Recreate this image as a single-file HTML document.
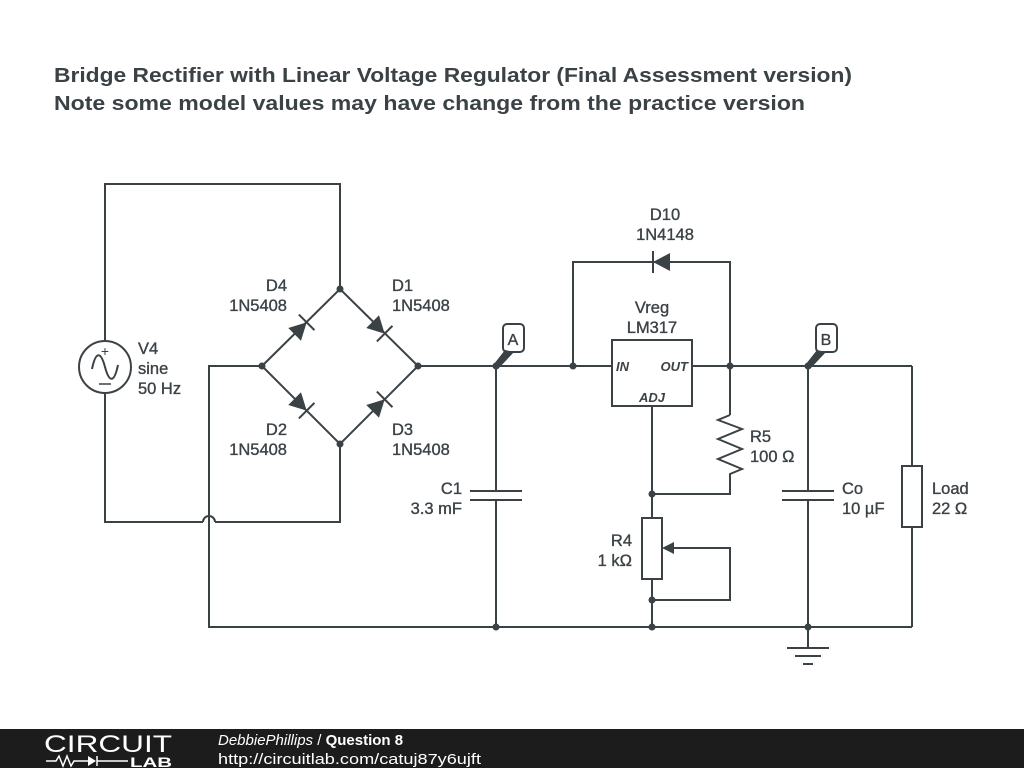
<!DOCTYPE html>
<html><head><meta charset="utf-8"><style>
html,body{margin:0;padding:0;background:#fff;width:1024px;height:768px;overflow:hidden}
svg{display:block}
text{font-family:"Liberation Sans",sans-serif;fill:#3b4246}
.lb text{stroke:#3b4246;stroke-width:0.35}
</style></head><body>
<svg width="1024" height="768" viewBox="0 0 1024 768" xmlns="http://www.w3.org/2000/svg">
<defs>
<g id="dio">
<polygon points="-9,-9 -9,9 8,0" fill="#3b4246"/>
<line x1="8" y1="-11" x2="8" y2="11" stroke="#3b4246" stroke-width="2"/>
</g>
</defs>
<text x="54" y="82" font-size="20" font-weight="bold" textLength="798" lengthAdjust="spacingAndGlyphs">Bridge Rectifier with Linear Voltage Regulator (Final Assessment version)</text>
<text x="54" y="110" font-size="20" font-weight="bold" textLength="751" lengthAdjust="spacingAndGlyphs">Note some model values may have change from the practice version</text>

<g fill="none" stroke="#3b4246" stroke-width="2">
<polyline points="105,341 105,184 340,184 340,289"/>
<polyline points="105,393 105,522 203,522"/>
<path d="M203,522 A6,6 0 0 1 215,522"/>
<polyline points="215,522 340,522 340,444"/>
<circle cx="105" cy="367" r="26"/>
<path d="M92,369 C96,350 101,352 105,367 C109,382 114,384 118,365"/>
<polyline points="262,366 340,289 418,366 340,444 262,366"/>
<polyline points="262,366 209,366 209,627 912,627"/>
<line x1="418" y1="366" x2="612" y2="366"/>
<line x1="692" y1="366" x2="912" y2="366"/>
<line x1="496" y1="366" x2="496" y2="491"/>
<line x1="496" y1="500" x2="496" y2="627"/>
<line x1="470" y1="491" x2="522" y2="491"/>
<line x1="470" y1="500" x2="522" y2="500"/>
<polyline points="573,366 573,262 730,262 730,415"/>
<rect x="612" y="340" width="80" height="66" fill="#fff"/>
<polyline points="730,415 718,420 742,429 718,439 742,449 718,459 742,469 730,474 730,494 652,494"/>
<line x1="652" y1="406" x2="652" y2="518"/>
<rect x="642" y="518" width="20" height="61" fill="#fff"/>
<polyline points="672,548 730,548 730,600 652,600"/>
<line x1="652" y1="579" x2="652" y2="627"/>
<line x1="808" y1="366" x2="808" y2="491"/>
<line x1="808" y1="500" x2="808" y2="648"/>
<line x1="782" y1="491" x2="834" y2="491"/>
<line x1="782" y1="500" x2="834" y2="500"/>
<line x1="912" y1="366" x2="912" y2="466"/>
<line x1="912" y1="527" x2="912" y2="627"/>
<rect x="902" y="466" width="20" height="61" fill="#fff"/>
<line x1="787" y1="648" x2="829" y2="648"/>
<line x1="795" y1="656" x2="821" y2="656"/>
<line x1="803" y1="664" x2="813" y2="664"/>
<rect x="503" y="324" width="21" height="28" rx="4" fill="#fff"/>
<rect x="816" y="324" width="21" height="28" rx="4" fill="#fff"/>
</g>
<polygon points="662,548 674,542 674,554" fill="#3b4246"/>
<polygon points="494,364 505,350 514,352 498,369" fill="#3b4246"/>
<polygon points="806,364 817,350 826,352 810,369" fill="#3b4246"/>
<g class="lb">
<text x="513" y="345" font-size="16" text-anchor="middle">A</text>
<text x="826" y="345" font-size="16" text-anchor="middle">B</text>
</g>
<text x="105" y="356" font-size="14" text-anchor="middle">+</text>
<line x1="99" y1="384" x2="111" y2="384" stroke="#3b4246" stroke-width="1.5"/>

<use href="#dio" transform="translate(301,328) rotate(-45)"/>
<use href="#dio" transform="translate(379,328) rotate(45)"/>
<use href="#dio" transform="translate(301,405) rotate(45)"/>
<use href="#dio" transform="translate(379,405) rotate(-45)"/>
<use href="#dio" transform="translate(661,262) rotate(180)"/>

<g fill="#3b4246">
<circle cx="340" cy="289" r="3.5"/><circle cx="262" cy="366" r="3.5"/>
<circle cx="418" cy="366" r="3.5"/><circle cx="340" cy="444" r="3.5"/>
<circle cx="496" cy="366" r="3.5"/><circle cx="573" cy="366" r="3.5"/>
<circle cx="730" cy="366" r="3.5"/><circle cx="808" cy="366" r="3.5"/>
<circle cx="652" cy="494" r="3.5"/><circle cx="652" cy="600" r="3.5"/>
<circle cx="496" cy="627" r="3.5"/><circle cx="652" cy="627" r="3.5"/>
<circle cx="808" cy="627" r="3.5"/>
</g>

<g font-size="16.5" class="lb">
<text x="138" y="354">V4</text><text x="138" y="374">sine</text><text x="138" y="394">50 Hz</text>
<text x="287" y="291" text-anchor="end">D4</text><text x="287" y="311" text-anchor="end">1N5408</text>
<text x="392" y="291">D1</text><text x="392" y="311">1N5408</text>
<text x="287" y="435" text-anchor="end">D2</text><text x="287" y="455" text-anchor="end">1N5408</text>
<text x="392" y="435">D3</text><text x="392" y="455">1N5408</text>
<text x="462" y="494" text-anchor="end">C1</text><text x="462" y="514" text-anchor="end">3.3 mF</text>
<text x="665" y="220" text-anchor="middle">D10</text><text x="665" y="240" text-anchor="middle">1N4148</text>
<text x="652" y="313" text-anchor="middle">Vreg</text><text x="652" y="333" text-anchor="middle">LM317</text>
<text x="750" y="442">R5</text><text x="750" y="462">100 Ω</text>
<text x="842" y="494">Co</text><text x="842" y="514">10 µF</text>
<text x="932" y="494">Load</text><text x="932" y="514">22 Ω</text>
<text x="632" y="546" text-anchor="end">R4</text><text x="632" y="566" text-anchor="end">1 kΩ</text>
</g>
<g font-size="13" font-style="italic" font-weight="bold">
<text x="616" y="371">IN</text><text x="688" y="371" text-anchor="end">OUT</text>
<text x="652" y="402" text-anchor="middle">ADJ</text>
</g>

<rect x="0" y="729" width="1024" height="39" fill="#1c1c1c"/>
<text x="44" y="752" font-size="24" style="fill:#fff" textLength="128" lengthAdjust="spacingAndGlyphs">CIRCUIT</text>
<polyline points="46,761 56,761 59,756 63,766 67,756 71,766 74,761 80,761 88,761" fill="none" stroke="#fff" stroke-width="1.5"/>
<polygon points="88,756 88,766 96,761" fill="#fff"/>
<line x1="97" y1="756" x2="97" y2="766" stroke="#fff" stroke-width="1.5"/>
<line x1="97" y1="761" x2="128" y2="761" stroke="#fff" stroke-width="1.5"/>
<text x="130" y="767" font-size="14" font-weight="bold" style="fill:#fff" textLength="42" lengthAdjust="spacingAndGlyphs">LAB</text>
<text x="218" y="745" font-size="15" style="fill:#fff"><tspan font-style="italic">DebbiePhillips</tspan> / <tspan font-weight="bold">Question 8</tspan></text>
<text x="218" y="764" font-size="15" style="fill:#fff" textLength="263" lengthAdjust="spacingAndGlyphs">http://circuitlab.com/catuj87y6ujft</text>
</svg>
</body></html>
